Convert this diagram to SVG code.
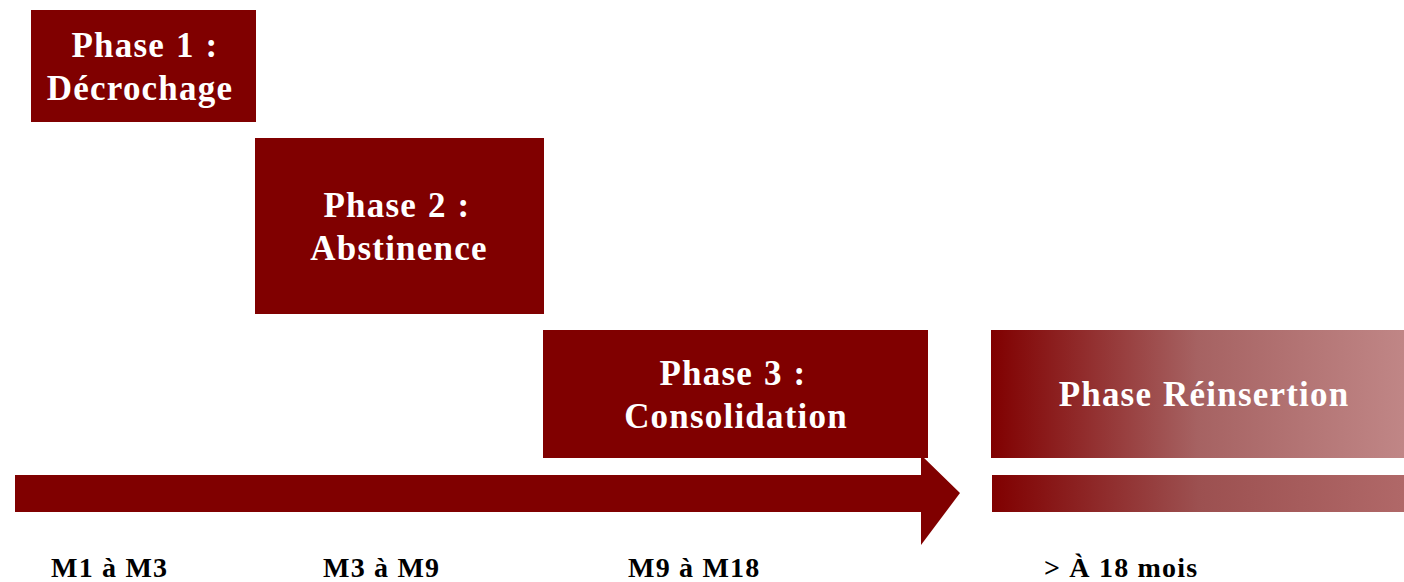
<svg xmlns="http://www.w3.org/2000/svg" width="1404" height="582" viewBox="0 0 1404 582">
<style>
.box{fill:#800000}
.t{font-family:"Liberation Serif",serif;font-weight:bold;font-size:35px;letter-spacing:1.2px;word-spacing:1px;fill:#fff;text-anchor:middle}
.m{font-family:"Liberation Serif",serif;font-weight:bold;font-size:28px;letter-spacing:1.2px;fill:#000}
</style>
<defs>
<linearGradient id="g1" x1="0" x2="1" y1="0" y2="0">
<stop offset="0" stop-color="#800000"/>
<stop offset="0.5" stop-color="#a66262"/>
<stop offset="1" stop-color="#c08686"/>
</linearGradient>
<linearGradient id="g2" x1="0" x2="1" y1="0" y2="0">
<stop offset="0" stop-color="#800000"/>
<stop offset="0.5" stop-color="#9c5050"/>
<stop offset="1" stop-color="#b06868"/>
</linearGradient>
</defs>
<g id="connectors">
<path class="box" d="M15 475 H921 V455 L960 493 L921 545 V512 H15 Z"/>
<rect x="992" y="475" width="412" height="37" fill="url(#g2)"/>
</g>
<g id="phase1">
<rect class="box" x="31" y="10" width="225" height="112"/>
<text class="t" x="145" y="57">Phase 1 :</text>
<text class="t" x="140" y="100">Décrochage</text>
</g>
<g id="phase2">
<rect class="box" x="255" y="138" width="289" height="176"/>
<text class="t" x="397" y="217">Phase 2 :</text>
<text class="t" x="399" y="260">Abstinence</text>
</g>
<g id="phase3">
<rect class="box" x="543" y="330" width="385" height="128"/>
<text class="t" x="733" y="385">Phase 3 :</text>
<text class="t" x="736" y="428">Consolidation</text>
</g>
<g id="reinsertion">
<rect x="991" y="330" width="413" height="128" fill="url(#g1)"/>
<text class="t" x="1204" y="406">Phase Réinsertion</text>
</g>
<g id="labels">
<text class="m" x="51" y="577">M1 à M3</text>
<text class="m" x="323" y="577">M3 à M9</text>
<text class="m" x="628" y="577">M9 à M18</text>
<text class="m" x="1044" y="577">&gt; À 18 mois</text>
</g>
</svg>
